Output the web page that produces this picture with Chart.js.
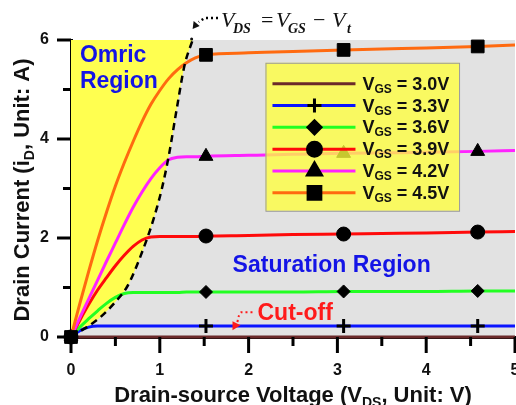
<!DOCTYPE html>
<html lang="en">
<head>
  <meta charset="UTF-8" />
  <title>MOSFET output characteristics</title>
  <script src="https://cdn.jsdelivr.net/npm/chart.js@4"></script>
  <style>
    html, body { margin: 0; padding: 0; background: #fff; }
    #wrap { width: 516px; height: 405px; }
  </style>
</head>
<body>
  <div id="wrap"><canvas id="ivChart"></canvas></div>

  <script>
    // drain-source voltage grid (V) shared by all curves
    const VDS = [0, 0.1, 0.2, 0.3, 0.4, 0.5, 0.6, 0.7, 0.8, 0.9, 1.0, 1.1, 1.2, 1.3, 1.4, 1.52, 2, 2.5, 3.07, 3.5, 4, 4.58, 5];
    // drain current (A) per gate voltage
    const ID_30 = [0, 0, 0, 0, 0, 0, 0, 0, 0, 0, 0, 0, 0, 0, 0, 0, 0, 0, 0, 0, 0, 0, 0];
    const ID_33 = [0, 0.13, 0.2, 0.22, 0.22, 0.22, 0.22, 0.22, 0.22, 0.22, 0.22, 0.22, 0.22, 0.22, 0.22, 0.22, 0.22, 0.22, 0.22, 0.22, 0.22, 0.22, 0.22];
    const ID_36 = [0, 0.2, 0.37, 0.53, 0.68, 0.8, 0.88, 0.9, 0.9, 0.9, 0.9, 0.9, 0.9, 0.91, 0.91, 0.91, 0.91, 0.91, 0.92, 0.92, 0.92, 0.93, 0.93];
    const ID_39 = [0, 0.34, 0.66, 0.95, 1.2, 1.44, 1.65, 1.83, 1.96, 2.02, 2.03, 2.03, 2.03, 2.03, 2.03, 2.04, 2.05, 2.07, 2.08, 2.09, 2.1, 2.12, 2.13];
    const ID_42 = [0, 0.39, 0.77, 1.15, 1.53, 1.9, 2.27, 2.62, 2.93, 3.2, 3.42, 3.58, 3.63, 3.64, 3.64, 3.65, 3.67, 3.69, 3.71, 3.72, 3.73, 3.75, 3.77];
    const ID_45 = [0, 0.68, 1.33, 1.95, 2.52, 3.05, 3.52, 3.95, 4.35, 4.7, 4.98, 5.22, 5.4, 5.54, 5.64, 5.7, 5.74, 5.77, 5.8, 5.82, 5.84, 5.87, 5.9];
    const VGS = ['3.0V', '3.3V', '3.6V', '3.9V', '4.2V', '4.5V'];
    // V_DS where symbols are drawn
    const MARK_VDS = [0, 1.52, 3.07, 4.58];
    // V_DS = V_GS - V_t boundary
    const EDGE_VDS = [0, 0.07, 0.18, 0.33, 0.49, 0.63, 0.72, 0.81, 0.89, 0.97, 1.02, 1.1, 1.19, 1.28, 1.37];
    const EDGE_ID = [0, 0.08, 0.2, 0.4, 0.69, 1.01, 1.35, 1.76, 2.16, 2.63, 2.97, 3.65, 4.6, 5.5, 6.0];

    const SERIES = [ID_30, ID_33, ID_36, ID_39, ID_42, ID_45];
    const COLORS = ['#6b2a2a', '#0a14ff', '#22ff22', '#ff0a0a', '#ff22ff', '#ff6a10'];
    const SYMBOLS = [null, 'cross', 'rectRot', 'circle', 'triangle', 'rect'];
    const SYM_R = [0, 7, 6.5, 7, 8, 9];

    const SANS = '"Liberation Sans", Arial, sans-serif';
    const SERIF = '"Liberation Serif", "Times New Roman", serif';

    const curves = SERIES.map((ys, i) => ({
      label: 'VGS = ' + VGS[i],
      vgs: VGS[i],
      sym: SYMBOLS[i],
      symR: SYM_R[i],
      data: VDS.map((x, k) => ({ x: x, y: ys[k] })),
      borderColor: COLORS[i],
      borderWidth: 3,
      cubicInterpolationMode: 'monotone',
      pointStyle: SYMBOLS[i] || 'circle',
      pointRadius: c => (SYMBOLS[i] && c.raw && MARK_VDS.includes(c.raw.x)) ? SYM_R[i] : 0,
      pointBackgroundColor: '#000',
      pointBorderColor: '#000',
      pointBorderWidth: i === 1 ? 3 : 1,
      fill: false,
      clip: false,
      order: 6 - i
    }));

    const edge = {
      label: 'edge',
      data: EDGE_VDS.map((x, k) => ({ x: x, y: EDGE_ID[k] })),
      borderColor: '#000',
      borderWidth: 2.5,
      borderDash: [7, 5],
      cubicInterpolationMode: 'monotone',
      pointRadius: 0,
      fill: 'end',
      backgroundColor: '#ffff50',
      order: -1
    };

    function drawParts(ctx, parts, x, y) {
      let cx = x;
      parts.forEach(([t, font, dy]) => {
        ctx.font = font;
        ctx.fillText(t, cx, y + (dy || 0));
        cx += ctx.measureText(t).width;
      });
      return cx - x;
    }
    function partsWidth(ctx, parts) {
      let w = 0;
      parts.forEach(([t, font]) => { ctx.font = font; w += ctx.measureText(t).width; });
      return w;
    }

    const plotBg = {
      id: 'plotBg',
      beforeDraw(chart) {
        const { ctx, chartArea: a } = chart;
        ctx.save();
        ctx.fillStyle = '#e2e2e2';
        ctx.fillRect(a.left, a.top, a.right - a.left, a.bottom - a.top);
        ctx.restore();
      }
    };

    const legendBox = {
      id: 'legendBox',
      afterDatasetsDraw(chart) {
        const { ctx, scales: { x, y } } = chart;
        const left = x.getPixelForValue(2.19), right = x.getPixelForValue(4.37);
        const top = y.getPixelForValue(5.54), bottom = y.getPixelForValue(2.55);
        ctx.save();
        ctx.fillStyle = 'rgba(255,255,60,0.78)';
        ctx.fillRect(left, top, right - left, bottom - top);
        ctx.strokeStyle = '#9a9a9a';
        ctx.lineWidth = 1;
        ctx.strokeRect(left + 0.5, top + 0.5, right - left, bottom - top);
        chart.data.datasets.forEach((ds, i) => {
          if (!ds.vgs) return;
          const cy = top + 21 + i * 21.8;
          ctx.strokeStyle = ds.borderColor;
          ctx.lineWidth = 3;
          ctx.setLineDash([]);
          ctx.beginPath();
          ctx.moveTo(left + 7, cy);
          ctx.lineTo(left + 90, cy);
          ctx.stroke();
          if (ds.sym) {
            ctx.fillStyle = '#000';
            ctx.strokeStyle = '#000';
            Chart.helpers.drawPoint(ctx, { pointStyle: ds.sym, radius: ds.symR, borderWidth: ds.sym === 'cross' ? 3 : 1, rotation: 0 }, left + 49, cy);
          }
          ctx.fillStyle = '#111';
          ctx.textBaseline = 'alphabetic';
          drawParts(ctx, [
            ['V', 'bold 18px ' + SANS, 0],
            ['GS', 'bold 12px ' + SANS, 3],
            [' = ' + ds.vgs, 'bold 18px ' + SANS, 0]
          ], left + 97, cy + 6);
        });
        ctx.restore();
      }
    };

    const notes = {
      id: 'notes',
      afterDraw(chart) {
        const { ctx, chartArea: a, scales: { x, y } } = chart;
        ctx.save();
        ctx.setLineDash([]);
        ctx.strokeStyle = '#000';
        ctx.lineCap = 'butt';

        // tick marks, long at labelled values
        ctx.lineWidth = 3;
        for (let v = 0; v <= 5; v += 0.5) {
          const px = x.getPixelForValue(v);
          const len = Number.isInteger(v) ? 16 : 9;
          ctx.beginPath(); ctx.moveTo(px, a.bottom); ctx.lineTo(px, a.bottom + len); ctx.stroke();
        }
        for (let v = 0; v <= 6; v += 1) {
          const py = y.getPixelForValue(v);
          const len = v % 2 === 0 ? 14 : 8;
          ctx.beginPath(); ctx.moveTo(a.left, py); ctx.lineTo(a.left - len, py); ctx.stroke();
        }

        ctx.textBaseline = 'alphabetic';
        ctx.textAlign = 'left';

        // axis titles
        ctx.fillStyle = '#111';
        const xt = [
          ['Drain-source Voltage (V', 'bold 22px ' + SANS, 0],
          ['DS', 'bold 14px ' + SANS, 5],
          [', Unit: V)', 'bold 22px ' + SANS, 0]
        ];
        drawParts(ctx, xt, 293 - partsWidth(ctx, xt) / 2, 402);
        const yt = [
          ['Drain Current (i', 'bold 22px ' + SANS, 0],
          ['D', 'bold 14px ' + SANS, 5],
          [', Unit: A)', 'bold 22px ' + SANS, 0]
        ];
        ctx.save();
        ctx.translate(29, 190);
        ctx.rotate(-Math.PI / 2);
        drawParts(ctx, yt, -partsWidth(ctx, yt) / 2, 0);
        ctx.restore();

        // region labels
        ctx.fillStyle = '#1414e6';
        ctx.font = 'bold 23px ' + SANS;
        ctx.fillText('Omric', x.getPixelForValue(0.1), y.getPixelForValue(5.56));
        ctx.fillText('Region', x.getPixelForValue(0.1), y.getPixelForValue(5.03));
        ctx.fillText('Saturation Region', x.getPixelForValue(1.82), y.getPixelForValue(1.31));

        // cut-off label with dotted arrow
        const cx = x.getPixelForValue(2.1), cy = y.getPixelForValue(0.34);
        ctx.fillStyle = '#ff1a1a';
        ctx.fillText('Cut-off', cx, cy);
        ctx.strokeStyle = '#ff1a1a';
        ctx.lineWidth = 2;
        ctx.setLineDash([2, 3]);
        ctx.beginPath();
        ctx.moveTo(cx - 5, cy - 8);
        ctx.lineTo(cx - 16, cy - 8);
        ctx.quadraticCurveTo(cx - 19, cy - 6, cx - 20, cy + 2);
        ctx.stroke();
        ctx.setLineDash([]);
        ctx.beginPath();
        ctx.moveTo(cx - 25, cy + 10);
        ctx.lineTo(cx - 25, cy + 1);
        ctx.lineTo(cx - 17, cy + 5);
        ctx.closePath();
        ctx.fill();

        // boundary formula with dotted arrow
        ctx.fillStyle = '#111';
        const fy = 27;
        const formula = [
          ['V', 'italic 22px ' + SERIF, 221, 0],
          ['DS', 'italic bold 14px ' + SERIF, 233, 6],
          ['=', '22px ' + SERIF, 261, 0],
          ['V', 'italic 22px ' + SERIF, 276, 0],
          ['GS', 'italic bold 14px ' + SERIF, 288, 6],
          ['\u2212', '22px ' + SERIF, 313, 0],
          ['V', 'italic 22px ' + SERIF, 332, 0],
          ['t', 'italic bold 14px ' + SERIF, 347, 6]
        ];
        formula.forEach(([t, font, px, dy]) => { ctx.font = font; ctx.fillText(t, px, fy + dy); });
        const tip = x.getPixelForValue(1.37);
        ctx.strokeStyle = '#000';
        ctx.lineWidth = 2.5;
        ctx.setLineDash([2, 3]);
        ctx.beginPath();
        ctx.moveTo(218, 18);
        ctx.lineTo(tip + 12, 18);
        ctx.lineTo(tip + 6, 22);
        ctx.stroke();
        ctx.setLineDash([]);
        ctx.beginPath();
        ctx.moveTo(tip, 29);
        ctx.lineTo(tip + 1, 21);
        ctx.lineTo(tip + 7, 26);
        ctx.closePath();
        ctx.fill();
        ctx.beginPath();
        ctx.arc(tip - 1, a.top - 1, 1.5, 0, Math.PI * 2);
        ctx.fill();
        ctx.restore();
      }
    };

    new Chart(document.getElementById('ivChart'), {
      type: 'line',
      data: { datasets: [...curves, edge] },
      options: {
        responsive: true,
        maintainAspectRatio: false,
        animation: false,
        events: [],
        layout: { autoPadding: false, padding: { top: 40, right: 1, left: 0, bottom: 0 } },
        plugins: {
          legend: { display: false },
          tooltip: { enabled: false },
          filler: { drawTime: 'beforeDatasetsDraw' }
        },
        scales: {
          x: {
            type: 'linear', min: 0, max: 5,
            grid: { display: false, drawTicks: false },
            border: { color: '#000', width: 3 },
            ticks: { stepSize: 1, padding: 24, color: '#111', font: { family: SANS, size: 16, weight: 'bold' } },
            afterFit(s) { s.height = 68; s.paddingLeft = 0; s.paddingRight = 0; }
          },
          y: {
            min: 0, max: 6,
            z: 1,
            grid: { display: false, drawTicks: false },
            border: { color: '#000', width: 3 },
            ticks: {
              stepSize: 1, padding: 22, color: '#111',
              font: { family: SANS, size: 16, weight: 'bold' },
              callback: v => (v % 2 === 0 ? v : '')
            },
            afterFit(s) { s.width = 71; s.paddingTop = 0; s.paddingBottom = 0; }
          }
        }
      },
      plugins: [plotBg, legendBox, notes]
    });
  </script>
</body>
</html>
